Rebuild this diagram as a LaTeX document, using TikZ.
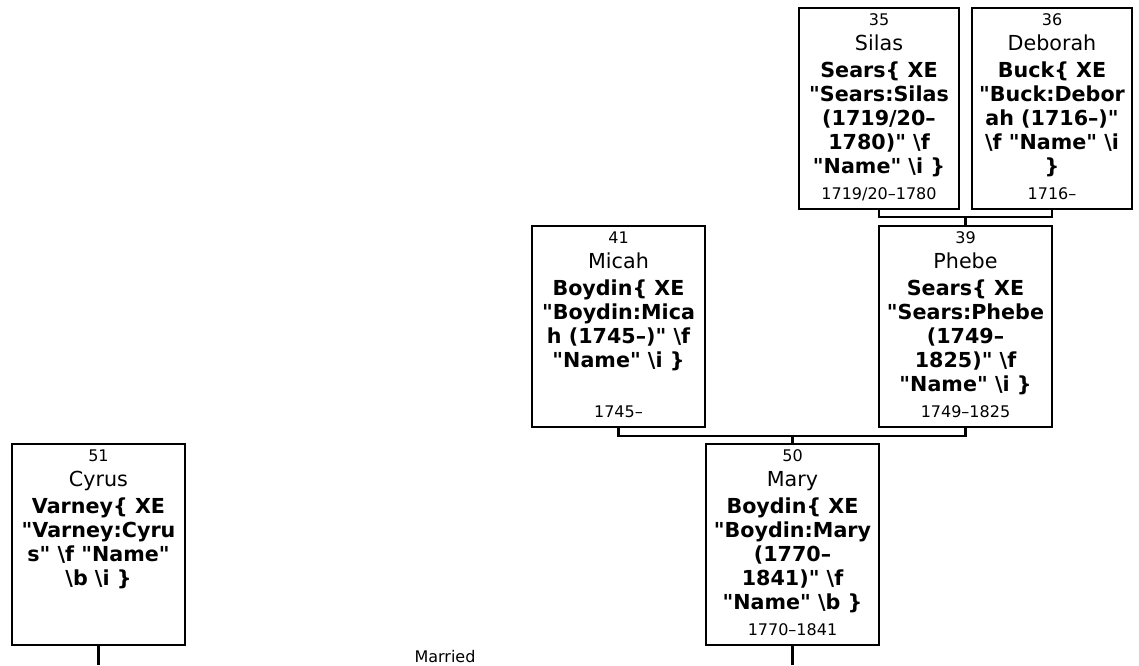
\documentclass[tikz,border=0pt]{standalone}
\usepackage{fontspec}
\setmainfont{DejaVu Sans}[Ligatures=TeXOff]
\newcommand{\numf}{\fontsize{12}{14}\selectfont}
\newcommand{\namef}{\fontsize{15.5}{18}\selectfont}
\newcommand{\boldf}{\fontsize{15.5}{18}\selectfont\bfseries}
\newcommand{\bs}{\textbackslash}
\newcommand{\pl}[1]{\hbox to \hsize{\hss\smash{#1}\hss}}
\newcommand{\bl}[1]{\kern18pt\pl{\boldf #1}}
\newcommand{\pbody}[5]{\vbox to 150.75pt{\hsize=#1\offinterlineskip
 \kern12.75pt\pl{\numf #2}\kern18.75pt\pl{\namef #3}\kern2.25pt #4\vss\pl{\numf #5}\kern7.5pt}}
\tikzset{
  pbox/.style={draw, rectangle, line width=1.6pt, inner sep=0pt, fill=white},
  conn/.style={draw, line width=1.6pt},
  lbl/.style={font=\numf, inner sep=0pt, anchor=base}
}
\begin{document}
\begin{tikzpicture}[x=0.75pt, y=-0.75pt]
\useasboundingbox (0,0) rectangle (1139,665);

\node[pbox] (silas) at (879,108.5) {\pbody{120pt}{35}{Silas}{\bl{Sears\{ XE}\bl{"Sears:Silas}\bl{(1719/20–}\bl{1780)" \bs f}\bl{"Name" \bs i \}}}{1719/20–1780}};
\node[pbox] (deborah) at (1052,108.5) {\pbody{120pt}{36}{Deborah}{\bl{Buck\{ XE}\bl{"Buck:Debor}\bl{ah (1716–)"}\bl{\bs f "Name" \bs i}\bl{\}}}{1716–}};

\node[pbox] (micah) at (618.5,326.5) {\pbody{129.75pt}{41}{Micah}{\bl{Boydin\{ XE}\bl{"Boydin:Mica}\bl{h (1745–)" \bs f}\bl{"Name" \bs i \}}}{1745–}};
\node[pbox] (phebe) at (965.5,326.5) {\pbody{129.75pt}{39}{Phebe}{\bl{Sears\{ XE}\bl{"Sears:Phebe}\bl{(1749–}\bl{1825)" \bs f}\bl{"Name" \bs i \}}}{1749–1825}};

\node[pbox] (mary) at (792.5,544.5) {\pbody{129.75pt}{50}{Mary}{\bl{Boydin\{ XE}\bl{"Boydin:Mary}\bl{(1770–}\bl{1841)" \bs f}\bl{"Name" \bs b \}}}{1770–1841}};
\node[pbox] (cyrus) at (98.5,544.5) {\pbody{129.75pt}{51}{Cyrus}{\bl{Varney\{ XE}\bl{"Varney:Cyru}\bl{s" \bs f "Name"}\bl{\bs b \bs i \}}}{}};

\coordinate (j1) at (965.5,217);
\draw[conn] (silas.south) |- (j1) -| (deborah.south);
\draw[conn] (j1) -- (phebe.north);

\coordinate (j2) at (792.5,436);
\draw[conn] (micah.south) |- (j2) -| (phebe.south);
\draw[conn] (j2) -- (mary.north);

\coordinate (c1) at (98.5,665);
\coordinate (c2) at (792.5,665);
\draw[conn] (cyrus.south) -- (c1);
\draw[conn] (mary.south) -- (c2);

\node[lbl] (married) at (445,662) {Married};
\end{tikzpicture}
\end{document}
